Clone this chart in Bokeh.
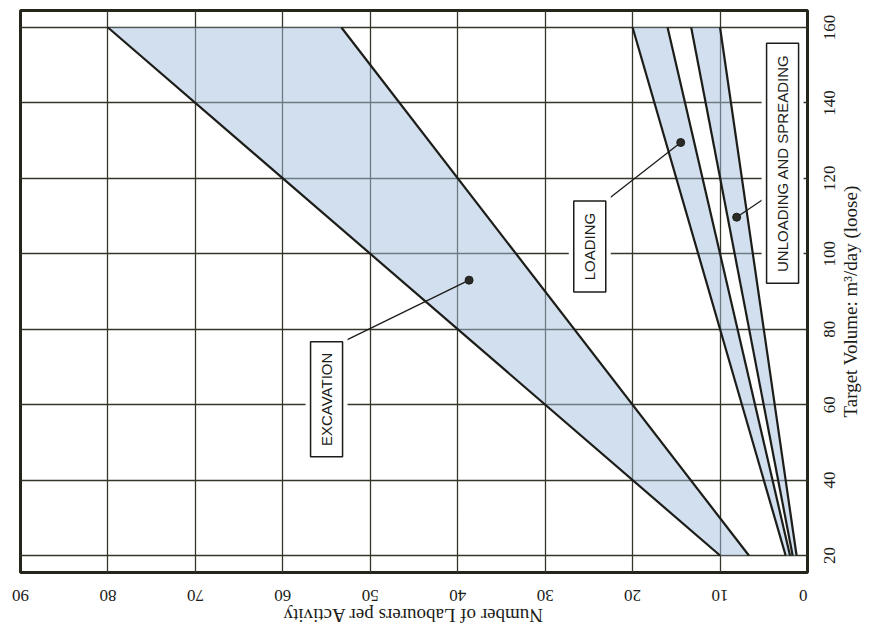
from math import pi
from bokeh.plotting import figure
from bokeh.models import (Range1d, FixedTicker, ColumnDataSource, LinearAxis,
                          Grid, CustomJSTickFormatter)
from bokeh.embed import file_html
from bokeh.resources import INLINE
from bokeh.core.properties import value

# ---- data ----
volume = [20, 160]                 # m3/day (loose), ends of each line
excavation_high = [10.0, 80.0]     # labourers
excavation_low = [6.7, 53.3]
loading_high = [2.5, 20.0]
loading_low = [2.0, 16.0]
unloading_high = [1.7, 13.3]
unloading_low = [1.25, 10.0]

labourer_ticks = [0, 10, 20, 30, 40, 50, 60, 70, 80, 90]
volume_ticks = [20, 40, 60, 80, 100, 120, 140, 160]

x_title = "Number of Labourers per Activity"
y_title = "Target Volume: m³/day (loose)"

label_text = ["EXCAVATION", "LOADING", "UNLOADING AND SPREADING"]
label_n = [55.0, 24.9, 2.85]
label_v = [61.4, 101.9, 124.0]
dot_n = [38.7, 14.5, 8.1]
dot_v = [93.0, 129.5, 109.7]
leader_n = [53.2, 23.1, 4.7]
leader_v = [76.6, 113.9, 115.0]

# ---- layout / styles ----
INK = "#1c1c18"
GRID = "#35352a"
FILL = "#a6c0de"
box_len = [115, 91, 240]
N_MIN, N_MAX = 0, 90
V_MIN, V_MAX = 15.5, 164.5
W, H = 874, 639
B_LEFT, B_TOP, B_RIGHT, B_BOTTOM = 20, 10, 66, 66
FRAME_W = 788
FRAME_H = 563
PX_N = FRAME_W / (N_MAX - N_MIN)
PX_V = FRAME_H / (V_MAX - V_MIN)
TICK_FS = 17
TITLE_FS = 19
X_TITLE_W = 262   # rendered width of the x title, px
Y_TITLE_W = 245   # rendered width of the y title, px
X_TITLE_CENTER_N = 45.2
Y_TITLE_CENTER_V = 89.0
TITLE_EXTENT = 23
X_TITLE_OFF, Y_TITLE_OFF = 43, 43
X_LABEL_OFF, Y_LABEL_OFF = 22, 21

p = figure(width=W, height=H,
           x_range=Range1d(N_MAX, N_MIN), y_range=Range1d(V_MIN, V_MAX),
           x_axis_location=None, y_axis_location=None,
           output_backend="svg", toolbar_location=None,
           min_border_left=B_LEFT, min_border_top=B_TOP,
           min_border_right=B_RIGHT, min_border_bottom=B_BOTTOM)
p.grid.visible = False

p.background_fill_color = "white"
p.border_fill_color = "white"
p.outline_line_color = "#25251c"
p.outline_line_width = 3

p.add_layout(Grid(dimension=0, ticker=FixedTicker(ticks=labourer_ticks),
                  grid_line_color=GRID, grid_line_width=1.3))
p.add_layout(Grid(dimension=1, ticker=FixedTicker(ticks=volume_ticks),
                  grid_line_color=GRID, grid_line_width=1.3))


def plain(ax, fs):
    ax.axis_line_color = None
    ax.major_tick_line_color = None
    ax.minor_tick_line_color = None
    ax.major_tick_out = 0
    ax.major_tick_in = 0
    ax.minor_tick_out = 0
    ax.minor_tick_in = 0
    ax.major_label_text_font = "Liberation Serif"
    ax.major_label_text_font_size = f"{fs}px"
    ax.major_label_text_color = INK
    return ax


def label_axis(ticks, px_per_unit, sign, lo, hi):
    # rotated labels hang from one end; move each anchor by half its width
    pos, lab = [], []
    for t in ticks:
        w = 0.5 * TICK_FS * len(str(t))
        q = t + sign * (w / 2) / px_per_unit
        q = min(max(q, lo), hi)
        pos.append(q)
        lab.append(str(t))
    fmt = CustomJSTickFormatter(args=dict(pos=pos, lab=lab), code="""
        for (let i = 0; i < pos.length; i++) {
            if (Math.abs(pos[i] - tick) < 1e-6) return lab[i];
        }
        return "";
    """)
    return FixedTicker(ticks=pos), fmt


# below: title axis (inner) then tick-label axis (outer)
xt = plain(LinearAxis(), TITLE_FS)
xt.ticker = FixedTicker(ticks=[X_TITLE_CENTER_N - (X_TITLE_W / 2) / PX_N])
xt.formatter = CustomJSTickFormatter(args=dict(t=x_title), code="return t;")
xt.major_label_orientation = -pi
xt.major_label_standoff = X_TITLE_OFF
p.add_layout(xt, "below")

xl = plain(LinearAxis(), TICK_FS)
xl.ticker, xl.formatter = label_axis(labourer_ticks, PX_N, -1, N_MIN, N_MAX)
xl.major_label_orientation = -pi
xl.major_label_standoff = X_LABEL_OFF - X_TITLE_OFF - TITLE_EXTENT
p.add_layout(xl, "below")

# right: title axis (inner) then tick-label axis (outer)
yt = plain(LinearAxis(), TITLE_FS)
yt.ticker = FixedTicker(ticks=[Y_TITLE_CENTER_V - (Y_TITLE_W / 2) / PX_V])
yt.formatter = CustomJSTickFormatter(args=dict(t=y_title), code="return t;")
yt.major_label_orientation = pi / 2
yt.major_label_standoff = Y_TITLE_OFF
p.add_layout(yt, "right")

yl = plain(LinearAxis(), TICK_FS)
yl.ticker, yl.formatter = label_axis(volume_ticks, PX_V, -1, V_MIN, V_MAX)
yl.major_label_orientation = pi / 2
yl.major_label_standoff = Y_LABEL_OFF - Y_TITLE_OFF - TITLE_EXTENT
p.add_layout(yl, "right")

# ---- bands ----
bands = [(excavation_high, excavation_low),
         (loading_high, loading_low),
         (unloading_high, unloading_low)]
for hi, lo in bands:
    xs = list(hi) + list(lo[::-1])
    ys = list(volume) + list(volume[::-1])
    p.patch(xs, ys, fill_color=FILL, fill_alpha=0.5, line_color=None)
for hi, lo in bands:
    p.line(hi, volume, line_color=INK, line_width=2.2)
    p.line(lo, volume, line_color=INK, line_width=2.2)

# ---- annotations ----
for i in range(len(label_text)):
    p.line([leader_n[i], dot_n[i]], [leader_v[i], dot_v[i]],
           line_color=INK, line_width=1.3)
p.scatter(dot_n, dot_v, size=8, fill_color="#2a2a26", line_color=INK)

src = ColumnDataSource(dict(x=label_n, y=label_v, text=label_text,
                            h=box_len, hp=[b + 10 for b in box_len]))
p.rect("x", "y", width=42, height="hp", width_units="screen",
       height_units="screen", source=src, fill_color="white",
       line_color=None)
p.rect("x", "y", width=32, height="h", width_units="screen",
       height_units="screen", source=src, fill_color="white",
       line_color=INK, line_width=1.5)
p.text("x", "y", text="text", source=src, angle=pi / 2,
       text_align="center", text_baseline="middle",
       text_font=value("Liberation Sans"), text_font_size="15px",
       text_color=INK)

open("out.html", "w").write(file_html(p, INLINE))
